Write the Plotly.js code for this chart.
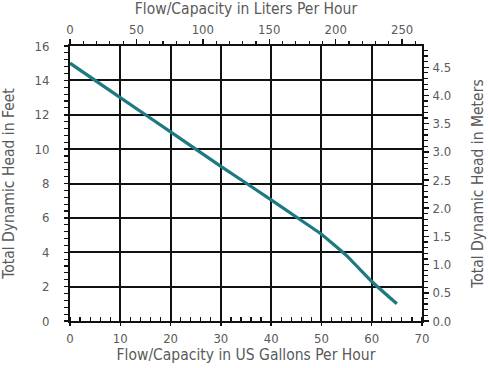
<!DOCTYPE html>
<html>
<head>
<meta charset="utf-8">
<script src="https://cdn.plot.ly/plotly-3.0.1.min.js"></script>
<style>html,body{margin:0;padding:0;background:#fff;}#chart{width:488px;height:368px;}</style>
</head>
<body>
<div id="chart"></div>
<script>
// Data
const flowGPH = [0, 10, 20, 30, 40, 45, 50, 55, 60, 65];
const headFeet = [15, 13, 11, 9, 7.05, 6.05, 5.05, 3.8, 2.3, 1.0];

const GPH_TO_LPH = 3.78541;
const FT_TO_M = 0.3048;
const xMax = 70, yMax = 16;

const fontFam = '"Liberation Sans Narrow", "DejaVu Sans Condensed", Arial, sans-serif';
const txtColor = '#5a5a5a';

const trace = {
  x: flowGPH, y: headFeet, type: 'scatter', mode: 'lines',
  line: {color: '#1d7a80', width: 3.2, shape: 'spline', smoothing: 0.3},
  xaxis: 'x', yaxis: 'y', hoverinfo: 'skip', showlegend: false
};
// invisible helper traces so the secondary axes render
const helperTop = {x: [0], y: [0], xaxis: 'x2', yaxis: 'y', mode: 'markers', marker: {opacity: 0}, showlegend: false, hoverinfo: 'skip'};
const helperRight = {x: [0], y: [0], xaxis: 'x', yaxis: 'y2', mode: 'markers', marker: {opacity: 0}, showlegend: false, hoverinfo: 'skip'};

const tickFont = {family: fontFam, size: 13, color: txtColor};
const titleFont = {family: fontFam, size: 15.5, color: txtColor};

const layout = {
  width: 488, height: 368,
  margin: {l: 70, r: 66, t: 46, b: 47},
  paper_bgcolor: '#fff', plot_bgcolor: '#fff',
  showlegend: false,
  xaxis: {
    range: [0, xMax], dtick: 10, tick0: 0,
    showgrid: true, gridcolor: '#111', gridwidth: 2,
    showline: true, linecolor: '#111', linewidth: 2,
    ticks: 'outside', ticklen: 3, tickcolor: '#111', tickwidth: 1.5,
    minor: {dtick: 2, ticks: 'inside', ticklen: 4, tickcolor: '#111', tickwidth: 1.2, showgrid: false},
    zeroline: false, tickfont: tickFont, ticklabelstandoff: 1,
    title: {text: 'Flow/Capacity in US Gallons Per Hour', font: titleFont, standoff: 3},
    fixedrange: true
  },
  xaxis2: {
    overlaying: 'x', side: 'top', anchor: 'y',
    range: [0, xMax * GPH_TO_LPH], dtick: 50, tick0: 0,
    showgrid: false, showline: true, linecolor: '#111', linewidth: 2,
    ticks: 'outside', ticklen: 5, tickcolor: '#111', tickwidth: 1.5,
    minor: {dtick: 10, ticks: 'outside', ticklen: 3.5, tickcolor: '#111', tickwidth: 1.2, showgrid: false},
    zeroline: false, tickfont: tickFont, ticklabelstandoff: 0,
    title: {text: 'Flow/Capacity in Liters Per Hour', font: titleFont, standoff: 6},
    fixedrange: true
  },
  yaxis: {
    range: [0, yMax], dtick: 2, tick0: 0,
    showgrid: true, gridcolor: '#111', gridwidth: 2,
    showline: true, linecolor: '#111', linewidth: 2,
    ticks: 'outside', ticklen: 4, tickcolor: '#111', tickwidth: 1.5,
    minor: {dtick: 0.4, ticks: 'outside', ticklen: 4, tickcolor: '#111', tickwidth: 1.2, showgrid: false},
    zeroline: false, tickfont: tickFont, ticklabelstandoff: 12,
    title: {text: 'Total Dynamic Head in Feet', font: titleFont, standoff: 16},
    fixedrange: true
  },
  yaxis2: {
    overlaying: 'y', side: 'right', anchor: 'x',
    range: [0, yMax * FT_TO_M], dtick: 0.5, tick0: 0, tickformat: '.1f',
    showgrid: false, showline: true, linecolor: '#111', linewidth: 2,
    ticks: 'outside', ticklen: 5, tickcolor: '#111', tickwidth: 1.5,
    minor: {dtick: 0.1, ticks: 'outside', ticklen: 3.5, tickcolor: '#111', tickwidth: 1.2, showgrid: false},
    zeroline: false, tickfont: tickFont, ticklabelstandoff: 1,
    title: {text: 'Total Dynamic Head in Meters', font: titleFont, standoff: 22},
    fixedrange: true
  }
};

Plotly.newPlot('chart', [trace, helperTop, helperRight], layout, {staticPlot: true, displayModeBar: false});
</script>
</body>
</html>
